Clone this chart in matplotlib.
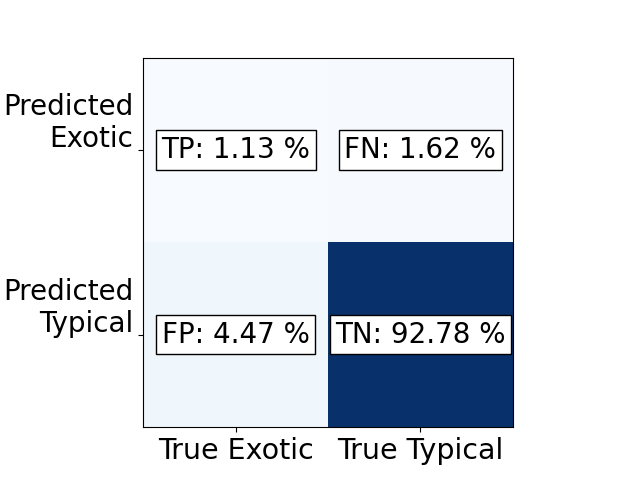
import matplotlib
matplotlib.use("Agg")
import matplotlib.pyplot as plt
import matplotlib.transforms as mtransforms
import numpy as np

# confusion matrix values in percent
row_labels = ["Predicted\nExotic", "Predicted\nTypical"]
col_labels = ["True Exotic", "True Typical"]
cell_names = [["TP", "FN"], ["FP", "TN"]]
percentages = [[1.13, 1.62], [4.47, 92.78]]

fontsize = 20
fig = plt.figure(figsize=(6.4, 4.8), dpi=100)
ax = fig.add_subplot(111)
mat = np.array(percentages)
ax.imshow(mat, cmap="Blues")

for i in range(mat.shape[0]):
    for j in range(mat.shape[1]):
        ax.text(j, i, "%s: %.2f %%" % (cell_names[i][j], mat[i, j]),
                ha="center", va="center", fontsize=fontsize,
                bbox=dict(facecolor="white", edgecolor="black"))

ax.set_xticks(range(len(col_labels)))
ax.set_xticklabels(col_labels, fontsize=20.5)
ax.set_yticks(range(len(row_labels)))
ax.set_yticklabels(row_labels, fontsize=fontsize, ha="right", va="bottom")
# nudge the y labels slightly down
offset = mtransforms.ScaledTranslation(0, -2.5 / 72, fig.dpi_scale_trans)
for lbl in ax.get_yticklabels():
    lbl.set_transform(lbl.get_transform() + offset)

plt.savefig("out.png")
